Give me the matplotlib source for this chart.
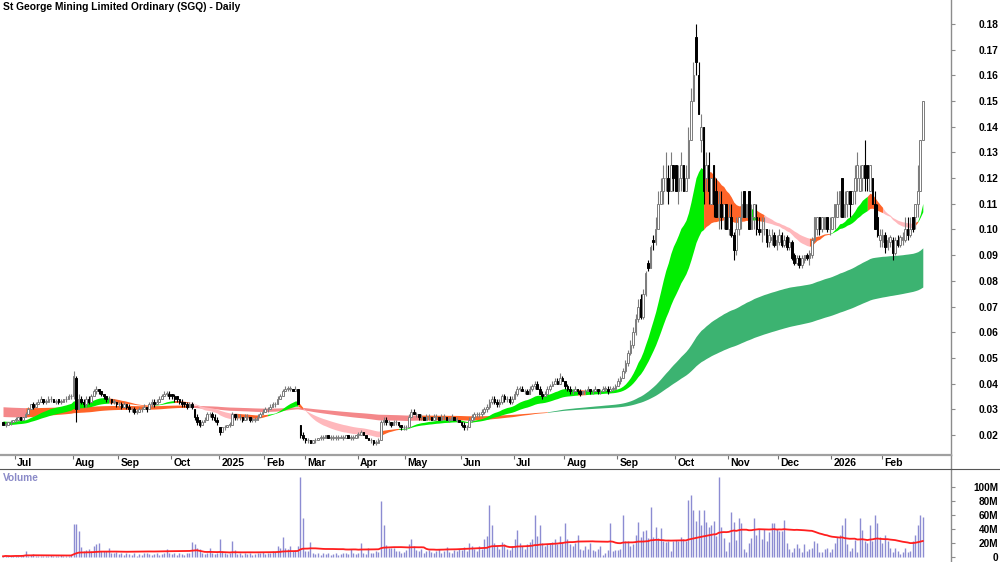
import numpy as np
import pandas as pd
import matplotlib
matplotlib.use("Agg")
import matplotlib.pyplot as plt
from matplotlib.lines import Line2D

plt.rcParams['font.family'] = ['Liberation Sans', 'DejaVu Sans']

# Daily bars, prices in cents, one line per month (Jun 2024 .. Feb 2026)
opens_c = [
    2.5, 2.4, 2.4, 2.5, 2.5,
    2.6, 2.6, 2.7, 2.6, 2.7, 2.8, 3.0, 3.2, 3.1, 3.2, 3.3, 3.4, 3.3, 3.3, 3.4, 3.4, 3.3, 3.4, 3.3, 3.3, 3.4, 3.4, 3.5,
    3.5, 4.2, 3.0, 3.4, 3.3, 3.2, 3.4, 3.3, 3.5, 3.7, 3.8, 3.7, 3.6, 3.5, 3.4, 3.4, 3.3, 3.3,
    3.2, 3.2, 3.1, 3.2, 3.1, 3.0, 3.0, 2.9, 2.9, 3.0, 3.0, 3.1, 3.0, 3.2, 3.3, 3.2, 3.3, 3.4, 3.5, 3.6, 3.6,
    3.6, 3.5, 3.5, 3.4, 3.3, 3.3, 3.2, 3.1, 3.2, 3.0, 2.7, 2.6, 2.4, 2.5, 2.6, 2.8, 2.8, 2.7, 2.6,
    2.3, 2.1, 2.3, 2.3, 2.4, 2.4, 2.8, 2.7, 2.7, 2.7, 2.6, 2.7, 2.7, 2.6, 2.6, 2.6, 2.7, 2.8,
    2.9, 3.0, 3.0, 3.1, 3.2, 3.2, 3.4, 3.5, 3.7, 3.8, 3.8, 3.8, 3.7, 3.8, 2.4, 2.0,
    1.9, 1.8, 1.8, 1.7, 1.8, 1.8, 1.9, 1.9, 1.9, 2.0, 1.9, 1.9, 1.9, 1.9, 1.9, 1.9, 1.9, 2.0, 1.9, 1.9, 1.9,
    2.0, 2.0, 2.1, 2.0, 1.9, 1.8, 1.8, 1.7, 1.7, 1.8, 2.5, 2.6, 2.5, 2.5, 2.4, 2.5, 2.5, 2.4, 2.3,
    2.3, 2.3, 2.7, 2.9, 2.8, 2.8, 2.7, 2.7, 2.6, 2.7, 2.7, 2.6, 2.7, 2.7, 2.6, 2.7, 2.7, 2.6, 2.6, 2.7, 2.6, 2.6,
    2.5, 2.4, 2.3, 2.3, 2.6, 2.7, 2.8, 2.8, 2.8, 2.9, 3.0, 3.1, 3.3, 3.4, 3.3, 3.2, 3.3, 3.5, 3.4, 3.4, 3.3,
    3.4, 3.6, 3.8, 3.8, 3.7, 3.7, 3.6, 3.8, 3.9, 4.0, 3.8, 3.6, 3.5, 3.6, 3.8, 3.9, 4.0, 4.1, 4.0, 4.2,
    4.1, 3.9, 3.8, 3.7, 3.7, 3.8, 3.7, 3.6, 3.7, 3.7, 3.8, 3.7, 3.7, 3.8, 3.7, 3.7, 3.8, 3.8, 3.7, 3.8, 3.8,
    3.9, 4.1, 4.2, 4.5, 4.8, 5.2, 5.5, 6.0, 6.5, 7.3, 6.6, 7.5, 8.7, 8.5, 9.6, 9.5, 10.0, 11.0, 11.5, 12.0, 12.0, 11.5, 12.5,
    12.5, 11.5, 12.0, 12.5, 11.5, 12.0, 13.5, 15.0, 17.5, 16.0, 13.5, 14.0, 12.0, 12.5, 11.0, 12.5, 11.5, 10.5, 11.0, 10.5, 11.0,
    10.0, 10.5, 9.8, 9.2, 10.0, 10.5, 11.5, 10.5, 11.5, 10.0, 10.5, 10.5, 10.0, 9.9, 10.0, 10.0, 9.5, 9.6, 9.8, 9.4,
    9.5, 9.8, 9.4, 9.7, 9.3, 9.5, 9.0, 8.7, 8.9, 8.6, 8.8, 9.0, 8.9, 9.0, 9.6, 10.0, 10.5, 10.0, 10.0, 10.5, 10.0,
    10.0, 10.5, 10.5, 11.0, 12.0, 10.5, 11.0, 11.5, 11.0, 11.5, 12.0, 11.5, 12.0, 12.5, 12.5, 11.5, 12.0, 11.0, 10.5, 9.6,
    9.5, 9.8, 9.3, 9.5, 9.6, 9.1, 9.6, 9.4, 9.6, 9.6, 10.0, 9.8, 10.5, 10.5, 11.0, 11.5, 13.5,
]
highs_c = [
    2.5, 2.5, 2.5, 2.6, 2.6,
    2.7, 2.7, 2.7, 2.7, 2.9, 3.1, 3.2, 3.3, 3.3, 3.4, 3.5, 3.4, 3.4, 3.5, 3.5, 3.4, 3.4, 3.4, 3.4, 3.4, 3.5, 3.6, 3.6,
    4.5, 4.3, 3.6, 3.5, 3.4, 3.5, 3.5, 3.6, 3.8, 3.9, 3.8, 3.7, 3.6, 3.5, 3.5, 3.4, 3.4, 3.3,
    3.3, 3.3, 3.3, 3.2, 3.2, 3.1, 3.1, 3.0, 3.1, 3.1, 3.2, 3.1, 3.3, 3.4, 3.4, 3.4, 3.5, 3.6, 3.7, 3.7, 3.7,
    3.6, 3.6, 3.5, 3.4, 3.4, 3.3, 3.3, 3.3, 3.3, 3.0, 2.8, 2.6, 2.6, 2.7, 2.9, 2.9, 2.9, 2.8, 2.7,
    2.3, 2.3, 2.4, 2.4, 2.5, 2.9, 2.8, 2.8, 2.8, 2.7, 2.8, 2.8, 2.7, 2.7, 2.7, 2.8, 2.9, 3.0,
    3.1, 3.1, 3.2, 3.3, 3.3, 3.5, 3.6, 3.8, 3.9, 3.9, 3.9, 3.8, 3.9, 3.8, 2.4, 2.1,
    1.9, 1.9, 1.8, 1.8, 1.9, 1.9, 2.0, 2.0, 2.0, 2.0, 2.0, 2.0, 2.0, 2.0, 2.0, 2.0, 2.0, 2.0, 2.0, 2.0, 2.0,
    2.1, 2.2, 2.1, 2.0, 1.9, 1.9, 1.8, 1.8, 1.9, 2.6, 2.7, 2.7, 2.6, 2.5, 2.6, 2.6, 2.5, 2.4, 2.4,
    2.4, 2.8, 3.0, 3.0, 2.9, 2.8, 2.8, 2.7, 2.8, 2.8, 2.7, 2.8, 2.8, 2.7, 2.8, 2.8, 2.7, 2.7, 2.8, 2.7, 2.7, 2.6,
    2.5, 2.5, 2.4, 2.7, 2.8, 2.9, 2.9, 2.9, 3.0, 3.1, 3.2, 3.4, 3.5, 3.5, 3.4, 3.4, 3.6, 3.6, 3.5, 3.5, 3.5,
    3.7, 3.9, 3.9, 3.9, 3.8, 3.8, 3.9, 4.0, 4.1, 4.1, 3.9, 3.7, 3.7, 3.9, 4.0, 4.1, 4.2, 4.2, 4.4, 4.3,
    4.1, 4.0, 3.9, 3.8, 3.9, 3.8, 3.8, 3.7, 3.8, 3.9, 3.8, 3.8, 3.9, 3.8, 3.8, 3.9, 3.9, 3.9, 3.9, 3.9, 4.0,
    4.2, 4.3, 4.6, 4.9, 5.3, 5.7, 6.2, 6.7, 7.3, 7.5, 7.7, 8.4, 8.8, 9.4, 9.8, 10.5, 11.5, 12.0, 12.5, 13.0, 12.5, 13.0, 12.5,
    12.5, 12.5, 13.0, 12.5, 12.5, 14.0, 15.5, 16.5, 18.0, 16.5, 14.5, 14.0, 13.0, 13.0, 12.0, 12.5, 12.0, 11.5, 11.5, 11.0, 11.0,
    11.0, 11.0, 9.9, 10.5, 10.5, 11.5, 11.5, 11.0, 11.5, 11.0, 11.0, 11.0, 10.5, 10.5, 10.5, 10.0, 10.0, 10.0, 9.9, 9.8,
    10.0, 9.9, 9.8, 9.8, 9.7, 9.6, 9.1, 9.0, 9.0, 9.0, 9.0, 9.1, 9.2, 9.7, 10.5, 10.5, 10.5, 10.5, 10.5, 10.5, 10.5,
    10.5, 11.0, 11.5, 11.5, 12.0, 11.5, 11.5, 11.5, 11.5, 12.5, 13.0, 12.5, 12.5, 13.5, 12.5, 12.5, 12.0, 11.5, 11.0, 10.0,
    10.0, 9.9, 9.7, 9.8, 9.7, 9.7, 9.8, 9.8, 9.9, 10.5, 10.5, 10.5, 10.5, 11.0, 12.5, 13.5, 15.0,
]
lows_c = [
    2.4, 2.3, 2.4, 2.4, 2.5,
    2.5, 2.6, 2.6, 2.6, 2.7, 2.8, 3.0, 3.0, 3.1, 3.2, 3.3, 3.2, 3.2, 3.3, 3.3, 3.3, 3.2, 3.2, 3.2, 3.3, 3.3, 3.4, 3.4,
    3.4, 2.5, 3.0, 3.2, 3.1, 3.1, 3.2, 3.3, 3.5, 3.6, 3.6, 3.5, 3.4, 3.3, 3.3, 3.2, 3.2, 3.1,
    3.1, 3.0, 3.1, 3.0, 2.9, 2.9, 2.8, 2.8, 2.9, 2.9, 3.0, 2.9, 3.0, 3.1, 3.1, 3.2, 3.3, 3.4, 3.5, 3.5, 3.4,
    3.4, 3.3, 3.3, 3.2, 3.1, 3.1, 3.0, 3.1, 3.0, 2.6, 2.4, 2.3, 2.4, 2.5, 2.6, 2.7, 2.6, 2.5, 2.4,
    2.0, 2.1, 2.2, 2.3, 2.3, 2.4, 2.6, 2.6, 2.6, 2.5, 2.6, 2.6, 2.5, 2.5, 2.5, 2.6, 2.7, 2.8,
    2.9, 2.9, 3.0, 3.1, 3.1, 3.2, 3.4, 3.5, 3.7, 3.7, 3.7, 3.7, 3.7, 3.2, 1.9, 1.8,
    1.7, 1.7, 1.7, 1.7, 1.7, 1.8, 1.8, 1.8, 1.9, 1.9, 1.8, 1.8, 1.8, 1.8, 1.9, 1.8, 1.9, 1.9, 1.8, 1.8, 1.9,
    1.9, 2.0, 2.0, 1.9, 1.8, 1.7, 1.6, 1.6, 1.7, 1.8, 2.4, 2.4, 2.4, 2.3, 2.4, 2.4, 2.3, 2.2, 2.2,
    2.2, 2.3, 2.7, 2.8, 2.7, 2.6, 2.6, 2.6, 2.6, 2.6, 2.6, 2.6, 2.6, 2.6, 2.6, 2.6, 2.6, 2.5, 2.6, 2.6, 2.5, 2.5,
    2.3, 2.2, 2.2, 2.3, 2.5, 2.6, 2.7, 2.7, 2.7, 2.8, 2.9, 3.0, 3.2, 3.2, 3.1, 3.1, 3.2, 3.3, 3.3, 3.2, 3.2,
    3.4, 3.5, 3.7, 3.7, 3.6, 3.6, 3.6, 3.7, 3.8, 3.8, 3.6, 3.4, 3.5, 3.6, 3.7, 3.9, 4.0, 4.0, 4.0, 4.1,
    3.8, 3.7, 3.6, 3.6, 3.7, 3.6, 3.5, 3.6, 3.6, 3.7, 3.6, 3.6, 3.7, 3.6, 3.6, 3.7, 3.7, 3.6, 3.7, 3.7, 3.8,
    3.9, 4.0, 4.2, 4.4, 4.7, 5.1, 5.4, 5.9, 6.4, 6.5, 6.5, 7.4, 8.4, 8.5, 9.2, 9.4, 10.0, 11.0, 11.0, 11.5, 11.0, 11.5, 11.5,
    11.5, 11.0, 11.5, 11.5, 11.5, 12.0, 13.5, 15.0, 16.0, 14.5, 13.0, 11.0, 11.5, 11.0, 11.0, 10.5, 10.5, 10.0, 10.0, 10.0, 10.0,
    9.8, 9.7, 8.8, 9.0, 9.8, 10.0, 10.5, 10.5, 10.0, 10.0, 10.0, 9.8, 9.8, 9.5, 9.8, 9.3, 9.3, 9.4, 9.3, 9.2,
    9.4, 9.3, 9.3, 9.2, 9.2, 8.8, 8.6, 8.6, 8.5, 8.5, 8.7, 8.8, 8.6, 8.9, 9.5, 9.8, 9.8, 9.9, 10.0, 9.9, 9.8,
    10.0, 10.0, 10.5, 10.5, 10.5, 10.5, 10.5, 10.5, 11.0, 11.0, 11.5, 11.5, 11.5, 11.5, 11.5, 11.5, 11.0, 10.0, 9.7, 9.3,
    9.3, 9.1, 9.2, 9.3, 8.8, 9.0, 9.3, 9.3, 9.4, 9.5, 9.6, 9.7, 9.9, 10.0, 10.5, 11.5, 13.5,
]
closes_c = [
    2.4, 2.4, 2.5, 2.5, 2.6,
    2.6, 2.7, 2.6, 2.7, 2.8, 3.0, 3.2, 3.1, 3.2, 3.3, 3.4, 3.3, 3.3, 3.4, 3.4, 3.3, 3.3, 3.3, 3.3, 3.4, 3.4, 3.5, 3.5,
    4.3, 3.0, 3.4, 3.3, 3.2, 3.4, 3.3, 3.5, 3.7, 3.8, 3.7, 3.6, 3.5, 3.4, 3.4, 3.3, 3.3, 3.2,
    3.2, 3.1, 3.2, 3.1, 3.0, 3.0, 2.9, 2.9, 3.0, 3.0, 3.1, 3.0, 3.2, 3.3, 3.2, 3.3, 3.4, 3.5, 3.6, 3.6, 3.5,
    3.5, 3.4, 3.4, 3.3, 3.2, 3.2, 3.1, 3.2, 3.1, 2.7, 2.5, 2.4, 2.5, 2.6, 2.8, 2.8, 2.7, 2.6, 2.5,
    2.1, 2.3, 2.3, 2.4, 2.4, 2.8, 2.7, 2.7, 2.7, 2.6, 2.7, 2.7, 2.6, 2.6, 2.6, 2.7, 2.8, 2.9,
    3.0, 3.0, 3.1, 3.2, 3.2, 3.4, 3.5, 3.7, 3.8, 3.8, 3.8, 3.7, 3.8, 3.2, 2.0, 1.9,
    1.8, 1.8, 1.7, 1.8, 1.8, 1.9, 1.9, 1.9, 2.0, 1.9, 1.9, 1.9, 1.9, 1.9, 1.9, 1.9, 2.0, 1.9, 1.9, 1.9, 2.0,
    2.0, 2.1, 2.0, 1.9, 1.8, 1.8, 1.7, 1.7, 1.8, 2.5, 2.6, 2.5, 2.5, 2.4, 2.5, 2.5, 2.4, 2.3, 2.3,
    2.3, 2.7, 2.9, 2.8, 2.8, 2.7, 2.7, 2.6, 2.7, 2.7, 2.6, 2.7, 2.7, 2.6, 2.7, 2.7, 2.6, 2.6, 2.7, 2.6, 2.6, 2.5,
    2.4, 2.3, 2.3, 2.6, 2.7, 2.8, 2.8, 2.8, 2.9, 3.0, 3.1, 3.3, 3.4, 3.3, 3.2, 3.3, 3.5, 3.4, 3.4, 3.3, 3.4,
    3.6, 3.8, 3.8, 3.7, 3.7, 3.6, 3.8, 3.9, 4.0, 3.8, 3.6, 3.5, 3.6, 3.8, 3.9, 4.0, 4.1, 4.0, 4.2, 4.1,
    3.9, 3.8, 3.7, 3.7, 3.8, 3.7, 3.6, 3.7, 3.7, 3.8, 3.7, 3.7, 3.8, 3.7, 3.7, 3.8, 3.8, 3.7, 3.8, 3.8, 3.9,
    4.1, 4.2, 4.5, 4.8, 5.2, 5.5, 6.0, 6.5, 7.0, 6.6, 7.5, 8.3, 8.5, 9.3, 9.5, 10.0, 11.0, 11.5, 12.0, 12.0, 11.5, 12.5, 12.0,
    11.5, 12.0, 12.5, 11.5, 12.0, 13.5, 15.0, 16.0, 16.5, 14.5, 14.0, 11.5, 12.5, 11.5, 12.0, 11.0, 10.5, 11.0, 10.5, 11.0, 10.0,
    10.5, 9.8, 9.2, 10.0, 10.5, 11.0, 10.5, 11.0, 10.0, 10.5, 11.0, 10.0, 9.9, 10.0, 10.0, 9.5, 9.8, 9.7, 9.4, 9.6,
    9.8, 9.4, 9.6, 9.3, 9.5, 8.9, 8.7, 8.9, 8.6, 8.9, 9.0, 8.9, 9.1, 9.6, 10.5, 10.5, 10.0, 10.5, 10.5, 10.0, 10.0,
    10.5, 11.0, 11.0, 11.5, 10.5, 11.0, 11.5, 11.0, 11.5, 12.0, 12.5, 12.0, 12.5, 12.0, 12.0, 12.5, 11.0, 10.0, 9.8, 9.8,
    9.8, 9.3, 9.6, 9.7, 9.1, 9.6, 9.4, 9.7, 9.7, 10.0, 9.8, 10.0, 10.0, 11.0, 11.5, 13.5, 15.0,
]
# volume, millions of shares
volumes_m = [
    1, 2, 1, 1, 2,
    2, 1, 2, 3, 8, 2, 3, 4, 2, 1, 2, 2, 1, 2, 3, 1, 2, 2, 3, 2, 1, 2, 3,
    47, 47, 37, 14, 8, 10, 11, 9, 16, 18, 20, 9, 9, 8, 13, 6, 5, 7,
    4, 5, 3, 6, 4, 3, 5, 2, 4, 3, 5, 6, 4, 3, 4, 5, 3, 4, 6, 11, 5,
    4, 6, 3, 5, 4, 3, 5, 6, 21, 18, 13, 11, 5, 4, 6, 13, 5, 4, 6,
    26, 8, 5, 4, 6, 23, 10, 4, 5, 3, 6, 4, 5, 3, 4, 6, 5, 7,
    4, 6, 5, 8, 7, 15, 13, 28, 13, 11, 15, 9, 10, 15, 114, 55,
    9, 8, 21, 5, 4, 6, 3, 5, 4, 6, 3, 4, 5, 3, 4, 6, 5, 4, 12, 5, 4,
    6, 20, 5, 4, 13, 6, 5, 8, 7, 79, 46, 17, 13, 13, 13, 8, 9, 6, 7,
    10, 18, 25, 15, 10, 8, 12, 6, 8, 10, 7, 5, 8, 12, 6, 9, 14, 7, 5, 10, 8, 12,
    10, 14, 8, 20, 15, 12, 9, 15, 12, 25, 30, 74, 45, 20, 15, 12, 22, 18, 12, 10, 15,
    25, 38, 20, 15, 12, 18, 22, 25, 60, 30, 45, 20, 15, 18, 20, 22, 25, 18, 30, 20,
    48, 25, 18, 15, 20, 31, 12, 10, 15, 12, 20, 10, 8, 12, 15, 3, 5, 10, 49, 8, 10,
    10, 12, 60, 23, 23, 15, 18, 31, 50, 28, 37, 38, 27, 71, 28, 43, 27, 41, 23, 21, 23, 9, 23,
    24, 23, 28, 25, 23, 81, 88, 67, 51, 67, 45, 67, 50, 43, 45, 51, 30, 114, 43, 27, 9,
    22, 64, 50, 24, 55, 48, 12, 7, 20, 27, 55, 32, 40, 25, 40, 23, 35, 48, 48, 40,
    37, 37, 52, 20, 11, 7, 13, 18, 13, 7, 18, 9, 12, 13, 23, 20, 7, 7, 11, 13, 7,
    11, 20, 28, 32, 45, 55, 18, 9, 13, 24, 7, 56, 38, 23, 20, 45, 23, 60, 48, 28,
    20, 32, 23, 13, 7, 13, 9, 4, 7, 13, 7, 9, 23, 32, 45, 60, 57,
]

month_labels = ['Jul', 'Aug', 'Sep', 'Oct', '2025', 'Feb', 'Mar', 'Apr', 'May', 'Jun',
                'Jul', 'Aug', 'Sep', 'Oct', 'Nov', 'Dec', '2026', 'Feb']
month_first_bar = [5, 28, 46, 67, 86, 104, 120, 141, 160, 182,
                   203, 223, 244, 267, 288, 308, 329, 349]

# moving average ribbons: periods and their values on the first bar (cents)
short_spans = [20, 24, 28, 32, 37, 42]
short_start = [2.55, 2.52, 2.49, 2.46, 2.43, 2.40]
long_spans = [135, 155, 175, 195, 215, 240]
long_start = [2.72, 2.80, 2.88, 2.96, 3.03, 3.10]

# ribbon trend state as shown by its colour, from the bar where it starts
short_trend_from = [0, 42, 60, 68, 74, 92, 105, 117, 119, 150, 157, 228, 231,
                    278, 297, 299, 302, 320, 328, 343, 349, 361, 363]
short_trend = ['up', 'mixed', 'up', 'mixed', 'down', 'mixed', 'up', 'mixed', 'down',
               'mixed', 'up', 'mixed', 'up', 'mixed', 'up', 'mixed', 'down', 'mixed',
               'up', 'mixed', 'down', 'mixed', 'up']
long_trend_from = [0, 9, 74, 165, 216]
long_trend = ['down', 'mixed', 'down', 'mixed', 'up']

vol_ma_len = 50

n = len(closes_c)
for name, arr in [('opens', opens_c), ('highs', highs_c), ('lows', lows_c), ('volumes', volumes_m)]:
    if len(arr) != n:
        raise ValueError(name + ' length %d != %d' % (len(arr), n))

o = np.array(opens_c) / 100
h = np.array(highs_c) / 100
l = np.array(lows_c) / 100
c = np.array(closes_c) / 100
v = np.array(volumes_m, dtype=float)
x = np.arange(n)


def ema(values, span, start):
    a = 2.0 / (span + 1)
    out = np.empty(len(values))
    e = start
    for i, val in enumerate(values):
        if i > 0:
            e = e + a * (val - e)
        out[i] = e
    return out


short_lines = np.array([ema(c, s, st / 100) for s, st in zip(short_spans, short_start)])
long_lines = np.array([ema(c, s, st / 100) for s, st in zip(long_spans, long_start)])

short_colours = {'up': '#00ee00', 'mixed': '#ff6428', 'down': '#ffb8bc'}
long_colours = {'up': '#3cb371', 'mixed': '#ff6428', 'down': '#f4888a'}

fig = plt.figure(figsize=(10, 5.62), dpi=100)
ax = fig.add_axes([0, 107 / 562, 0.951, 455 / 562])
ax_d = fig.add_axes([0, 93 / 562, 0.951, 14 / 562])
ax_v = fig.add_axes([0, 0, 0.951, 93 / 562])

x_lo, x_hi = -1.19, 951 / 2.52 - 1.19
for a in (ax, ax_d, ax_v):
    a.set_xlim(x_lo, x_hi)
    a.set_xticks([])
    for side in ('left', 'top', 'bottom'):
        a.spines[side].set_visible(False)
    a.spines['right'].set_color('#8c8c8c')
    a.spines['right'].set_linewidth(1)


def draw_ribbon(lines, starts, states, colours, z):
    lo = lines.min(axis=0)
    hi = lines.max(axis=0)
    ends = starts[1:] + [n - 1]
    for s, e, st in zip(starts, ends, states):
        sl = slice(s, e + 1)
        ax.fill_between(x[sl], lo[sl], hi[sl], color=colours[st], lw=0, zorder=z)


draw_ribbon(long_lines, long_trend_from, long_trend, long_colours, 1)
draw_ribbon(short_lines, short_trend_from, short_trend, short_colours, 2)

# candles
up = c >= o
grey = '#7c7c7c'
ax.vlines(x[up], l[up], h[up], color=grey, lw=0.8, zorder=3)
ax.vlines(x[~up], l[~up], h[~up], color='black', lw=0.8, zorder=3)
body = np.maximum(np.abs(c - o), 0.0002)
ax.bar(x[up], body[up], bottom=np.minimum(o, c)[up], width=0.65,
       facecolor='white', edgecolor=grey, linewidth=0.7, zorder=4)
ax.bar(x[~up], body[~up], bottom=np.minimum(o, c)[~up], width=0.65,
       facecolor='black', edgecolor='black', linewidth=0.7, zorder=4)

ax.set_ylim(0.02 - 20 / 2569, 0.02 + 435 / 2569)
ax.yaxis.tick_right()
ax.set_yticks(np.round(np.arange(0.02, 0.181, 0.01), 2))
ax.set_yticklabels(['%.2f' % t for t in np.arange(0.02, 0.181, 0.01)])
ax.tick_params(axis='y', direction='out', length=3, width=0.8, color='#8c8c8c',
               pad=31, labelsize=7.4, labelcolor='black')
for t in ax.get_yticklabels():
    t.set_fontweight('bold')
    t.set_horizontalalignment('right')

# date strip
ax_d.set_ylim(0, 1)
ax_d.set_yticks([])
ax_d.spines['top'].set_visible(True)
ax_d.spines['top'].set_color('#a0a0a0')
ax_d.spines['top'].set_linewidth(1.6)
ax_d.vlines(np.array(month_first_bar) - 0.3, 0.75, 1.0, color='#707070', lw=0.8)
for lab, b in zip(month_labels, month_first_bar):
    ax_d.text(b + 0.6, 0.42, lab, ha='left', va='center', fontsize=7.5,
              fontweight='bold', color='black')

# volume pane
ax_v.vlines(x, 0, v, color='#8c8cd2', lw=1.0, zorder=2)
vol_ma = pd.Series(v).rolling(vol_ma_len, min_periods=1).mean()
ax_v.plot(x, vol_ma, color='#ff1e1e', lw=1.3, zorder=3)
ax_v.set_ylim(-5 / 0.703, 88 / 0.703)
ax_v.yaxis.tick_right()
ax_v.set_yticks([0, 20, 40, 60, 80, 100])
ax_v.set_yticklabels(['0', '20M', '40M', '60M', '80M', '100M'])
ax_v.tick_params(axis='y', direction='out', length=3, width=0.8, color='#8c8c8c',
                 pad=31, labelsize=7.2, labelcolor='black')
for t in ax_v.get_yticklabels():
    t.set_fontweight('bold')
    t.set_horizontalalignment('right')
ax_v.text(0.003, 0.9, 'Volume', transform=ax_v.transAxes, ha='left', va='center',
          fontsize=7.3, fontweight='bold', color='#8a8ac8')

fig.add_artist(Line2D([0, 1], [93 / 562, 93 / 562], color='#555555', lw=0.8))

fig.text(0.003, 1 - 7.5 / 562, 'St George Mining Limited Ordinary (SGQ) - Daily',
         ha='left', va='center', fontsize=7.4, fontweight='bold', color='black')

fig.savefig('out.png', dpi=100, facecolor='white')
